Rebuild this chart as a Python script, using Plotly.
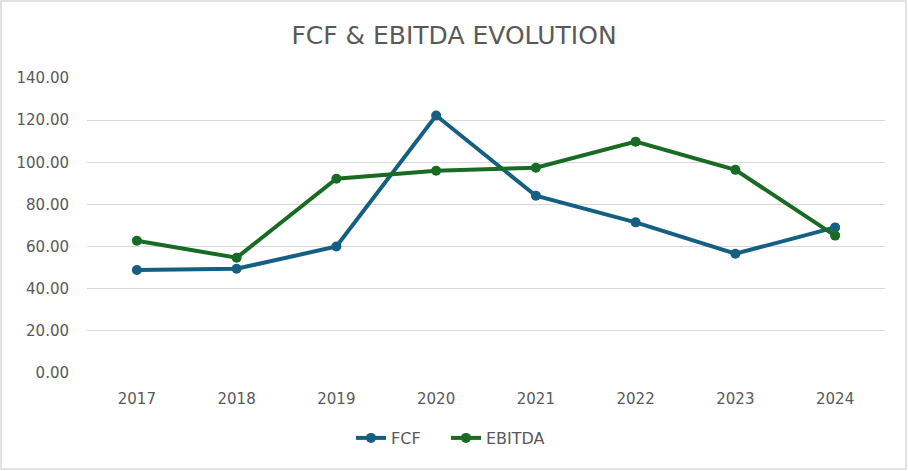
import plotly.graph_objects as go

years = ["2017", "2018", "2019", "2020", "2021", "2022", "2023", "2024"]
fcf = [48.9, 49.5, 60.0, 122.2, 84.1, 71.5, 56.6, 69.1]
ebitda = [62.8, 54.7, 92.2, 96.0, 97.4, 109.8, 96.4, 65.2]
y_ticks = [0, 20, 40, 60, 80, 100, 120, 140]
y_tick_labels = [f"{v:.2f}" for v in y_ticks]

FONT = "DejaVu Sans"
TXT = "#595959"
W, H = 908, 471
L, R, T, B = 87, 23, 78, 98

fig = go.Figure()
fig.add_trace(go.Scatter(x=years, y=fcf, name="FCF", mode="lines+markers",
                         line=dict(color="#156082", width=4),
                         marker=dict(color="#156082", size=10), legend="legend"))
fig.add_trace(go.Scatter(x=years, y=ebitda, name="EBITDA", mode="lines+markers",
                         line=dict(color="#196B24", width=4),
                         marker=dict(color="#196B24", size=10), legend="legend2"))

pw, ph = W - L - R, H - T - B
def px_x(p):
    return (p - L) / pw
def px_y(p):
    return (H - B - p) / ph

def leg(xpix):
    return dict(orientation="h", x=px_x(xpix), xanchor="left",
                y=px_y(438), yanchor="middle",
                font=dict(family=FONT, size=16, color=TXT),
                bgcolor="rgba(0,0,0,0)")

fig.update_layout(
    width=W, height=H,
    margin=dict(l=L, r=R, t=T, b=B),
    paper_bgcolor="white", plot_bgcolor="white",
    font=dict(family=FONT, color=TXT, size=15),
    title=dict(text="FCF & EBITDA EVOLUTION", x=0.5, xanchor="center",
               y=1 - 35 / H, yanchor="middle",
               font=dict(family=FONT, size=25, color=TXT)),
    showlegend=True,
    legend=leg(351),
    legend2=leg(446),
    xaxis=dict(type="category", range=[-0.5, len(years) - 0.5],
               showgrid=False, showline=False, zeroline=False,
               ticks="", tickfont=dict(size=15, color=TXT), ticklabelstandoff=15),
    yaxis=dict(range=[0, 140], tickvals=y_ticks, ticktext=y_tick_labels,
               showgrid=True, gridcolor="#D9D9D9", gridwidth=1.3,
               zeroline=False, showline=False, ticks="",
               tickfont=dict(size=15, color=TXT), ticklabelstandoff=17),
    shapes=[dict(type="rect", xref="paper", yref="paper",
                 x0=px_x(1), x1=px_x(906), y0=px_y(469), y1=px_y(1),
                 line=dict(color="#D9D9D9", width=1.5), fillcolor="rgba(0,0,0,0)",
                 layer="below")],
)

fig.write_html("out.html", config={"displayModeBar": False},
               post_script="document.body.style.margin='0';document.body.style.padding='0';")
